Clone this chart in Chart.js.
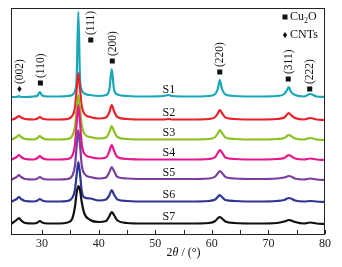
<!DOCTYPE html>
<html>
<head>
<meta charset="utf-8">
<script src="https://cdn.jsdelivr.net/npm/chart.js@4"></script>
<style>
  html, body { margin: 0; padding: 0; background: #fff; }
  #wrap { width: 342px; height: 267px; }
</style>
</head>
<body>
<div id="wrap"><canvas id="xrdChart"></canvas></div>
<script>
// 2theta sampling positions (deg)
const twoTheta = [24.5, 25.0, 25.5, 25.9, 26.3, 27.0, 28.5, 29.2, 29.6, 30.0,
  31.0, 33.0, 34.5, 35.3, 35.8, 36.1, 36.4, 36.7, 37.0, 37.5,
  38.5, 40.0, 41.3, 41.9, 42.3, 42.7, 43.3, 45.0, 48.0, 51.5,
  52.3, 53.0, 56.0, 59.5, 60.6, 61.1, 61.4, 61.8, 62.4, 64.0,
  68.0, 71.5, 72.8, 73.3, 73.6, 74.0, 74.7, 76.3, 77.4, 78.5, 80.0];

// intensities (a.u., above each baseline)
const s1 = [0,0,0,1,0,0,0.5,1.5,5,1.5, 0.5,0.5,1,2,6,18,85,18,7,3.5, 2,1,2,8,28,8,2.5,1,0.5,1, 2,1,0.5,1,3,9,17,8,2.5,1, 0.5,1,3,7,10,5,2,0.5,3,0.5,0];
const s2 = [0,1,2.5,4,2.5,1,0.5,1.5,3,1.5, 0.5,0.5,1,4,12,30,47,31,14,6, 3,1.5,2.5,8,15,9,3,1,0.5,0.5, 1,0.5,0.5,1,3,7,10,7,2.5,1, 0.5,1,2.5,5.5,7,5,2,0.5,2,0.5,0];
const s3 = [0,1.5,3,5,3,1,0.5,2,4,2, 0.5,0.5,1,4,13,30,45,32,15,6, 3,1.5,2.5,8,14,9,3,1,0.5,0.5, 0.5,0.5,0.5,1,3,7,10,7,2.5,1, 0.5,1,2,4,5,4,1.5,0.5,2,0.5,0];
const s4 = [0,1.5,3,5,3,1,0.5,2,4,2, 0.5,0.5,1,4,15,36,55,38,16,6, 3,1.5,2.5,9,15,9.5,3,1,0.5,0.5, 0.5,0.5,0.5,1,3,7.5,10,7.5,2.5,1, 0.5,1,2,4,5,4,1.5,0.5,1.5,0.5,0];
const s5 = [0,1.5,3,5,3,1,0.5,1.5,3,1.5, 0.5,0.5,1,4,14,33,50,35,15,6, 3,1.5,2.5,8,13,9,3,1.5,1,1, 1,1,1,1.5,3.5,7,9,7,3,1.5, 1,1.5,2.5,3.5,4,3.5,1.5,0.5,1.5,0.5,0];
const s6 = [0,1.5,3,5,3,1,0.5,1.5,3,1.5, 0.5,0.5,1,4,12,27,40,28,11,4.5, 3.5,1.5,2.5,7,12,7.5,2.5,1,0.5,0.5, 0.5,0.5,0.5,1,2.5,5.5,7,5,2,1, 0.5,1,2,3.5,4,3.5,1.5,0.5,1,0.5,0];
const s7 = [0,2,4,6,3.5,1,0.5,1.5,3,1.5, 0.5,0.5,1.5,5,17,31,38,34,22,10, 4,2,3,8,12,9,3.5,1,0.5,0.5, 0.5,0.5,0.5,1,3,6,7,5.5,2.5,1, 0.5,1,2.5,3.5,4,3.5,2,0.5,1.5,0.5,0];

const sampleNames = ['S1', 'S2', 'S3', 'S4', 'S5', 'S6', 'S7'];
const offsets = [137, 114, 94, 74, 54, 32, 10];
const colors = ['#1ba7b8', '#e8212b', '#8cc021', '#e6198c', '#7a3f9e', '#2e3593', '#111111'];

// peak annotations
const peakAt = [26.0, 29.7, 38.6, 42.4, 61.4, 73.5, 77.3];
const peakText = ['(002)', '(110)', '(111)', '(200)', '(220)', '(311)', '(222)'];
const peakPhase = ['CNTs', 'Cu2O', 'Cu2O', 'Cu2O', 'Cu2O', 'Cu2O', 'Cu2O'];
const peakLevel = [145, 151, 194, 173, 162, 155, 145];

const xTicks = [30, 40, 50, 60, 70, 80];
const xMinor = [35, 45, 55, 65, 75];

const serif = '"Liberation Serif", "DejaVu Serif", serif';
const allSeries = [s1, s2, s3, s4, s5, s6, s7];

function marker(ctx, kind, x, y) {
  if (kind === 'Cu2O') {
    ctx.fillRect(x - 2.5, y - 2.5, 5, 5);
  } else {
    ctx.beginPath();
    ctx.moveTo(x, y - 3); ctx.lineTo(x + 2.2, y); ctx.lineTo(x, y + 3); ctx.lineTo(x - 2.2, y);
    ctx.closePath(); ctx.fill();
  }
}

const decor = {
  id: 'decor',
  afterDatasetsDraw(chart) {
    const { ctx, chartArea: a, scales: { x, y } } = chart;
    ctx.save();
    ctx.strokeStyle = '#222';
    ctx.fillStyle = '#111';
    ctx.lineWidth = 1;
    ctx.strokeRect(a.left + 0.5, a.top + 0.5, a.right - a.left - 1, a.bottom - a.top);
    ctx.beginPath();
    xTicks.concat(xMinor).forEach(v => {
      const px = Math.round(x.getPixelForValue(v)) + 0.5;
      ctx.moveTo(px, a.bottom);
      ctx.lineTo(px, a.bottom - 4);
    });
    ctx.stroke();

    // sample names
    ctx.font = '12px ' + serif;
    ctx.textAlign = 'center';
    ctx.textBaseline = 'middle';
    sampleNames.forEach((n, i) => {
      ctx.fillText(n, x.getPixelForValue(52.4), y.getPixelForValue(offsets[i]) - 7);
    });

    // peak labels, rotated
    ctx.font = '11.5px ' + serif;
    peakAt.forEach((p, i) => {
      const px = x.getPixelForValue(p);
      const py = y.getPixelForValue(peakLevel[i]);
      marker(ctx, peakPhase[i], px, py);
      ctx.save();
      ctx.translate(px, py - 5);
      ctx.rotate(-Math.PI / 2);
      ctx.textAlign = 'left';
      ctx.textBaseline = 'middle';
      ctx.fillText(peakText[i], 0, 0.5);
      ctx.restore();
    });

    // legend
    const lx = a.right - 40;
    ctx.textAlign = 'left';
    ctx.textBaseline = 'middle';
    ctx.font = '12px ' + serif;
    marker(ctx, 'Cu2O', lx, a.top + 9);
    ctx.fillText('Cu', lx + 5, a.top + 9);
    let w = ctx.measureText('Cu').width;
    ctx.font = '8px ' + serif;
    ctx.fillText('2', lx + 5 + w, a.top + 13);
    const w2 = ctx.measureText('2').width;
    ctx.font = '12px ' + serif;
    ctx.fillText('O', lx + 5 + w + w2, a.top + 9);
    marker(ctx, 'CNTs', lx, a.top + 27);
    ctx.fillText('CNTs', lx + 5, a.top + 27);

    // axis title: 2θ / (°)
    const tx = x.getPixelForValue(55);
    const ty = a.bottom + 19;
    const p1 = '2', p3 = ' / (°)';
    ctx.font = 'italic 12px ' + serif;
    const wTheta = ctx.measureText('θ').width;
    ctx.font = '12px ' + serif;
    const total = ctx.measureText(p1).width + wTheta + ctx.measureText(p3).width;
    let cx = tx - total / 2;
    ctx.fillText(p1, cx, ty); cx += ctx.measureText(p1).width;
    ctx.font = 'italic 12px ' + serif;
    ctx.fillText('θ', cx, ty); cx += wTheta;
    ctx.font = '12px ' + serif;
    ctx.fillText(p3, cx, ty);
    ctx.restore();
  }
};

new Chart(document.getElementById('xrdChart'), {
  type: 'line',
  data: {
    datasets: allSeries.map((s, i) => ({
      label: sampleNames[i],
      data: twoTheta.map((t, k) => ({ x: t, y: s[k] + offsets[i] })),
      borderColor: colors[i],
      borderWidth: 2.2,
      pointRadius: 0,
      cubicInterpolationMode: 'monotone',
      order: 7 - i
    }))
  },
  options: {
    responsive: true,
    maintainAspectRatio: false,
    animation: false,
    layout: { padding: { left: 11, right: 17, top: 8, bottom: 0 } },
    plugins: { legend: { display: false }, tooltip: { enabled: false } },
    scales: {
      x: {
        type: 'linear',
        min: 24.5,
        max: 80,
        afterBuildTicks: s => { s.ticks = xTicks.map(v => ({ value: v })); },
        afterFit: s => { s.height = 33; },
        grid: { display: false, drawTicks: false },
        border: { display: false },
        ticks: { padding: 3, color: '#222', font: { family: serif, size: 12 } }
      },
      y: { display: false, min: 0, max: 226 }
    }
  },
  plugins: [decor]
});
</script>
</body>
</html>
